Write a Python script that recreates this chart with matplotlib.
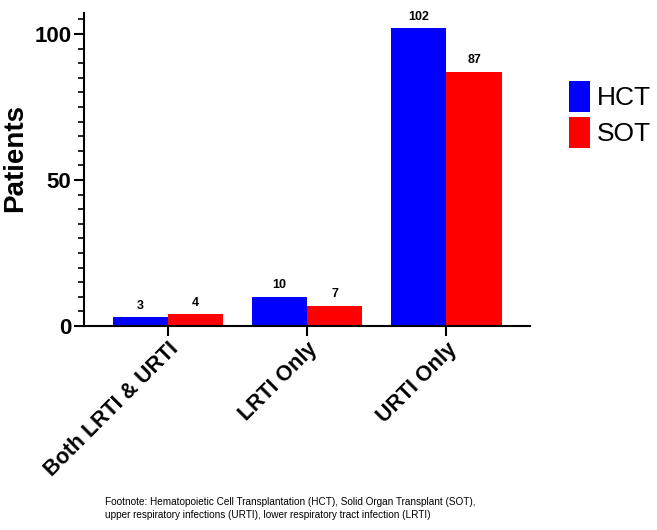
import numpy as np
import matplotlib
matplotlib.use("Agg")
import matplotlib.pyplot as plt
from matplotlib.ticker import MultipleLocator

plt.rcParams['font.family'] = ['Liberation Sans', 'DejaVu Sans']

categories = ["Both LRTI & URTI", "LRTI Only", "URTI Only"]
hct = [3, 10, 102]
sot = [4, 7, 87]
series_names = ["HCT", "SOT"]
footnote = ("Footnote: Hematopoietic Cell Transplantation (HCT), Solid Organ Transplant (SOT),\n"
            "upper respiratory infections (URTI), lower respiratory tract infection (LRTI)")

fig = plt.figure(figsize=(6.57, 5.30), dpi=100)
ax = fig.add_axes([0.1279, 0.385, 0.679, 0.5906])

x = np.arange(len(categories))
w = 0.395
b1 = ax.bar(x - w / 2, hct, w, color="#0000ff", label=series_names[0])
b2 = ax.bar(x + w / 2, sot, w, color="#ff0000", label=series_names[1])

for bars in (b1, b2):
    ax.bar_label(bars, padding=4, fontsize=9, fontweight="bold")

ax.set_xlim(-0.6, 2.6)
ax.set_ylim(0, 107.2)
ax.yaxis.set_major_locator(MultipleLocator(50))
ax.yaxis.set_minor_locator(MultipleLocator(5))
ax.set_xticks(x)
ax.set_xticklabels(categories, rotation=45, ha="right", va="top",
                   rotation_mode="anchor", fontsize=15.5, fontweight="bold")
for lab in ax.get_yticklabels():
    lab.set_fontsize(16)
    lab.set_fontweight("bold")

ax.spines["top"].set_visible(False)
ax.spines["right"].set_visible(False)
ax.spines["left"].set_linewidth(1.5)
ax.spines["bottom"].set_linewidth(1.5)
ax.tick_params(axis="both", which="major", length=7, width=1.5, pad=2)
ax.tick_params(axis="y", which="minor", length=4, width=1.2)
ax.set_ylabel("Patients", fontsize=20, fontweight="bold")
ax.yaxis.set_label_coords(-0.126, 0.535)

fig.legend(loc="upper left", bbox_to_anchor=(0.866, 0.847), frameon=False,
           fontsize=19, handlelength=0.8, handleheight=1.43,
           handletextpad=0.27, labelspacing=0.19, borderpad=0, borderaxespad=0)

fig.text(0.16, 0.041, footnote, fontsize=7.2, ha="left", va="center", linespacing=1.34)

fig.savefig("out.png", dpi=100)
